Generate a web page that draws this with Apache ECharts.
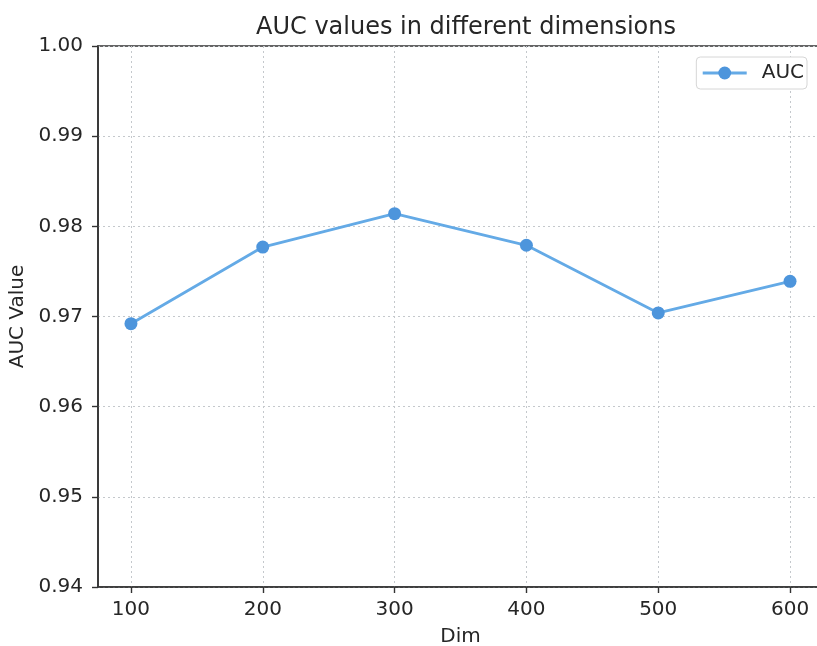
<!DOCTYPE html>
<html>
<head>
<meta charset="utf-8">
<script src="https://cdn.jsdelivr.net/npm/echarts@6/dist/echarts.min.js"></script>
<style>html,body{margin:0;padding:0;background:#fff;}#chart{width:817px;height:646px;}</style>
</head>
<body>
<div id="chart"></div>
<script>
const dims = [100, 200, 300, 400, 500, 600];
const aucValues = [0.9692, 0.9777, 0.9814, 0.9779, 0.9704, 0.9739];
const xTicks = [100, 200, 300, 400, 500, 600];
const yTicks = [0.94, 0.95, 0.96, 0.97, 0.98, 0.99, 1.00];

const chart = echarts.init(document.getElementById('chart'), null, {renderer: 'canvas'});
const font = 'DejaVu Sans';
const ink = '#262626';
chart.setOption({
  backgroundColor: '#ffffff',
  animation: false,
  title: {
    text: 'AUC values in different dimensions',
    left: 461, top: 11, textAlign: 'center',
    textStyle: {fontFamily: font, fontSize: 24, fontWeight: 'normal', color: ink}
  },
  legend: {
    right: 10, top: 57,
    data: ['AUC'],
    itemWidth: 44, itemHeight: 16,
    padding: [6, 3, 6, 5],
    borderColor: '#d6d6d6', borderWidth: 1, borderRadius: 4,
    backgroundColor: '#fff',
    lineStyle: {width: 2.8},
    textStyle: {fontFamily: font, fontSize: 20, color: ink, padding: [0, 0, 0, 10]}
  },
  grid: {left: 98, width: 725, top: 46, height: 541, containLabel: false,
    outerBoundsMode: 'none',
    show: true, borderColor: '#333', borderWidth: 1.6, backgroundColor: 'transparent'},
  xAxis: {
    type: 'value', min: 75, max: 625,
    name: 'Dim', nameLocation: 'middle', nameGap: 40,
    nameTextStyle: {fontFamily: font, fontSize: 20, color: ink},
    axisLine: {show: true, lineStyle: {color: '#333', width: 1.6}},
    axisTick: {show: true, length: 6, lineStyle: {color: '#333', width: 1.4}, customValues: xTicks},
    axisLabel: {fontFamily: font, fontSize: 20, color: ink, margin: 13, customValues: xTicks},
    splitLine: {show: true, lineStyle: {color: '#c4c8cc', type: [2, 3], width: 1}}
  },
  yAxis: {
    type: 'value', min: 0.94, max: 1.00, interval: 0.01,
    name: 'AUC Value', nameLocation: 'middle', nameGap: 66, nameRotate: 90,
    nameTextStyle: {fontFamily: font, fontSize: 20, color: ink},
    axisLine: {show: true, lineStyle: {color: '#333', width: 1.6}},
    axisTick: {show: true, length: 6, lineStyle: {color: '#333', width: 1.4}},
    axisLabel: {fontFamily: font, fontSize: 20, color: ink, margin: 15,
      formatter: v => v.toFixed(2)},
    splitLine: {show: true, lineStyle: {color: '#c4c8cc', type: [2, 3], width: 1}}
  },
  series: [{
    name: 'AUC', type: 'line',
    data: dims.map((d, i) => [d, aucValues[i]]),
    symbol: 'circle', symbolSize: 13,
    lineStyle: {color: '#64aae6', width: 2.8},
    itemStyle: {color: '#4d95dc'}
  }]
});
</script>
</body>
</html>
